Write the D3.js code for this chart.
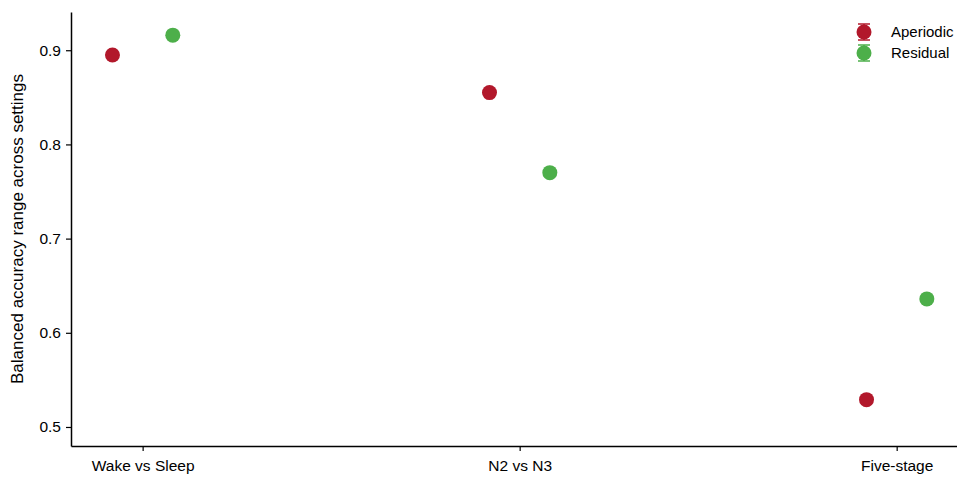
<!DOCTYPE html>
<html><head><meta charset="utf-8">
<script src="https://cdn.jsdelivr.net/npm/d3@7"></script>
<style>body{margin:0;background:#fff;} text{font-family:"Liberation Sans",Arial,sans-serif;}</style>
</head><body>
<svg id="c" width="957" height="481"></svg>
<script>
const categories = ["Wake vs Sleep", "N2 vs N3", "Five-stage"];
const seriesNames = ["Aperiodic", "Residual"];
const aperiodic = [0.895, 0.855, 0.529];
const residual = [0.916, 0.770, 0.636];
const yTicks = [0.5, 0.6, 0.7, 0.8, 0.9];
const colors = ["#b2182b", "#4daf4a"];

const svg = d3.select("#c");
const L = 71, R = 957, T = 12, B = 446;
const x = d3.scaleLinear().domain([-0.19, 2.16]).range([L, R]);
const y = d3.scaleLinear().domain([0.4798, 0.9406]).range([B, T]);
const offset = 0.08;

const xAxis = svg.append("g").attr("transform", `translate(0,${B})`)
  .call(d3.axisBottom(x).tickValues([0,1,2]).tickFormat(i => categories[i]).tickSize(5).tickPadding(9).tickSizeOuter(0));
const yAxis = svg.append("g").attr("transform", `translate(${L},0)`)
  .call(d3.axisLeft(y).tickValues(yTicks).tickFormat(d3.format(".1f")).tickSize(5).tickPadding(5).tickSizeOuter(0));
[xAxis, yAxis].forEach(g => {
  g.selectAll("path.domain").attr("stroke", "#000").attr("stroke-width", 1.5);
  g.selectAll(".tick line").attr("stroke", "#000").attr("stroke-width", 1.2);
  g.selectAll(".tick text").attr("fill", "#000").style("font-size", "15.5px");
});

svg.append("text").attr("transform", `translate(23,${(T+B)/2}) rotate(-90)`)
  .attr("text-anchor", "middle").style("font-size", "17px").attr("fill", "#000")
  .text("Balanced accuracy range across settings");

const series = [aperiodic, residual];
series.forEach((vals, s) => {
  svg.append("g").selectAll("circle").data(vals).join("circle")
    .attr("cx", (d, i) => x(i + (s === 0 ? -offset : offset)))
    .attr("cy", d => y(d))
    .attr("r", 7.5)
    .attr("fill", colors[s]);
});

const leg = svg.append("g");
seriesNames.forEach((n, s) => {
  const ly = 32 + s * 21, lx = 864;
  leg.append("line").attr("x1", lx).attr("x2", lx).attr("y1", ly - 8).attr("y2", ly + 8).attr("stroke", colors[s]).attr("stroke-width", 1.5);
  leg.append("line").attr("x1", lx - 6).attr("x2", lx + 6).attr("y1", ly - 8).attr("y2", ly - 8).attr("stroke", colors[s]).attr("stroke-width", 1.5);
  leg.append("line").attr("x1", lx - 6).attr("x2", lx + 6).attr("y1", ly + 8).attr("y2", ly + 8).attr("stroke", colors[s]).attr("stroke-width", 1.5);
  leg.append("circle").attr("cx", lx).attr("cy", ly).attr("r", 7.5).attr("fill", colors[s]);
  leg.append("text").attr("x", 891).attr("y", ly + 5).style("font-size", "15px").attr("fill", "#000").text(n);
});
</script>
</body></html>
